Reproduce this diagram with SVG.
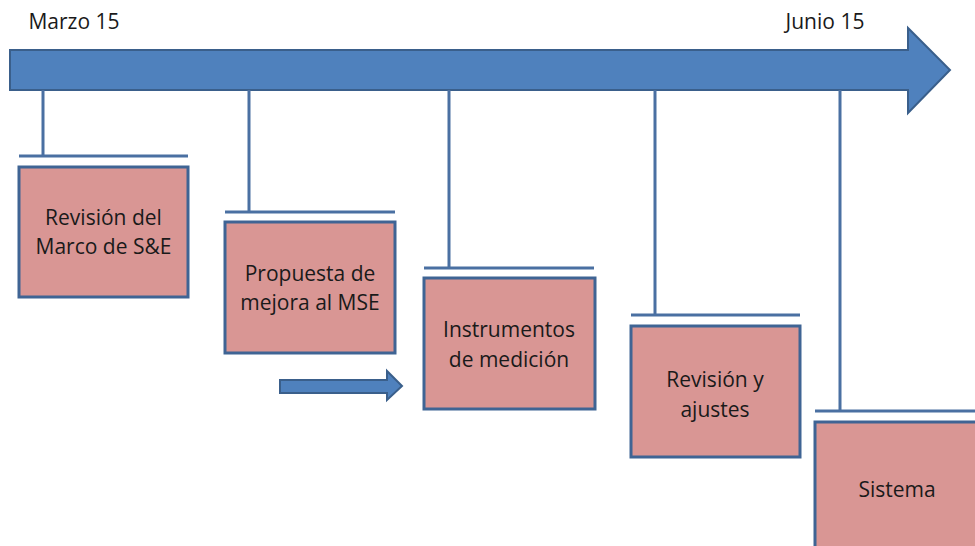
<svg xmlns="http://www.w3.org/2000/svg" width="975" height="546" viewBox="0 0 975 546">
<style>
.arrow{fill:#4F81BD;stroke:#3A5F8B;stroke-width:2;stroke-linejoin:miter}
.box{fill:#D99694;stroke:#3F6494;stroke-width:3}
.ln{stroke:#4A70A2;stroke-width:3;fill:none}
text{font-family:"Open Sans","Liberation Sans",sans-serif;font-size:21px;fill:#1a1a1a;text-anchor:middle}
</style>
<rect width="975" height="546" fill="#fff"/>
<g id="timeline">
<polygon class="arrow" points="10,50 908,50 908,28 950,70 908,113 908,90 10,90"/>
<text x="74" y="29">Marzo 15</text>
<text x="825" y="29">Junio 15</text>
</g>
<g id="connectors">
<path class="ln" d="M43,90 V156 M19,156 H188"/>
<path class="ln" d="M249,90 V212 M225,212 H395"/>
<path class="ln" d="M449,90 V268 M424,268 H594"/>
<path class="ln" d="M655,90 V315 M631,315 H800"/>
<path class="ln" d="M840,90 V411 M815,411 H975"/>
<polygon class="arrow" points="280,380 387,380 387,371 402,386 387,400 387,393 280,393"/>
</g>
<g id="n1">
<rect class="box" x="19" y="167" width="169" height="130"/>
<text x="103.5" y="225">Revisión del</text>
<text x="103.5" y="254">Marco de S&amp;E</text>
</g>
<g id="n2">
<rect class="box" x="225" y="222" width="170" height="131"/>
<text x="310" y="281">Propuesta de</text>
<text x="310" y="310">mejora al MSE</text>
</g>
<g id="n3">
<rect class="box" x="424" y="278" width="171" height="131"/>
<text x="509" y="337">Instrumentos</text>
<text x="509" y="367">de medición</text>
</g>
<g id="n4">
<rect class="box" x="631" y="326" width="169" height="131"/>
<text x="715" y="387">Revisión y</text>
<text x="715" y="417">ajustes</text>
</g>
<g id="n5">
<rect class="box" x="815" y="422" width="175" height="140"/>
<text x="897" y="497">Sistema</text>
</g>
</svg>
